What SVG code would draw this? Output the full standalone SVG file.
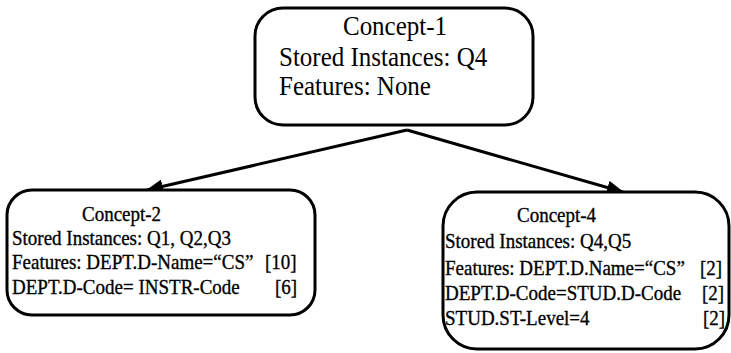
<svg xmlns="http://www.w3.org/2000/svg" width="731" height="353" viewBox="0 0 731 353">
  <style>
    .box { fill: #fff; stroke: #000; stroke-width: 3; }
    .big { font-family: "Liberation Serif", "Times New Roman", serif; font-size: 25px; fill: #000; }
    .small { font-family: "Liberation Serif", "Times New Roman", serif; font-size: 19px; fill: #000; stroke: #000; stroke-width: 0.3; }
    .edge { stroke: #000; stroke-width: 3; fill: none; }
  </style>
  <defs>
    <marker id="arrow" markerUnits="userSpaceOnUse" markerWidth="18" markerHeight="14" refX="16" refY="7" orient="auto">
      <path d="M0,0 L17,7 L0,14 Z" fill="#000"/>
    </marker>
  </defs>
  <rect width="731" height="353" fill="#fff"/>

  <g id="edges">
    <line class="edge" x1="407" y1="130" x2="147" y2="190" marker-end="url(#arrow)"/>
    <line class="edge" x1="407" y1="130" x2="623" y2="192" marker-end="url(#arrow)"/>
  </g>

  <g id="concept-1">
    <rect class="box" x="255" y="8" width="278" height="117" rx="28" ry="28"/>
    <text class="big" transform="translate(395,35) scale(1,1.07)" text-anchor="middle">Concept-1</text>
    <text class="big" transform="translate(279,66) scale(1,1.07)">Stored Instances: Q4</text>
    <text class="big" transform="translate(279,95) scale(1,1.07)">Features: None</text>
  </g>

  <!-- lower captions are set slightly taller than the regular face -->
  <g id="concept-2">
    <rect class="box" x="7" y="190" width="308" height="125" rx="25" ry="25"/>
    <text class="small" transform="translate(82,221) scale(1,1.15)">Concept-2</text>
    <text class="small" transform="translate(12,245) scale(1,1.15)">Stored Instances: Q1, Q2,Q3</text>
    <text class="small" transform="translate(12,269) scale(1,1.15)">Features: DEPT.D-Name=“CS”</text>
    <text class="small" transform="translate(265,269) scale(1,1.15)">[10]</text>
    <text class="small" transform="translate(12,294) scale(1,1.15)">DEPT.D-Code= INSTR-Code</text>
    <text class="small" transform="translate(275,294) scale(1,1.15)">[6]</text>
  </g>

  <g id="concept-4">
    <rect class="box" x="443" y="192" width="286" height="157" rx="34" ry="34"/>
    <text class="small" transform="translate(517,222) scale(1,1.15)">Concept-4</text>
    <text class="small" transform="translate(445,248) scale(1,1.15)">Stored Instances: Q4,Q5</text>
    <text class="small" transform="translate(445,275) scale(1,1.15)">Features: DEPT.D.Name=“CS”</text>
    <text class="small" transform="translate(700,275) scale(1,1.15)">[2]</text>
    <text class="small" transform="translate(445,300) scale(1,1.15)">DEPT.D-Code=STUD.D-Code</text>
    <text class="small" transform="translate(702,300) scale(1,1.15)">[2]</text>
    <text class="small" transform="translate(445,325) scale(1,1.15)">STUD.ST-Level=4</text>
    <text class="small" transform="translate(703,325) scale(1,1.15)">[2]</text>
  </g>
</svg>
